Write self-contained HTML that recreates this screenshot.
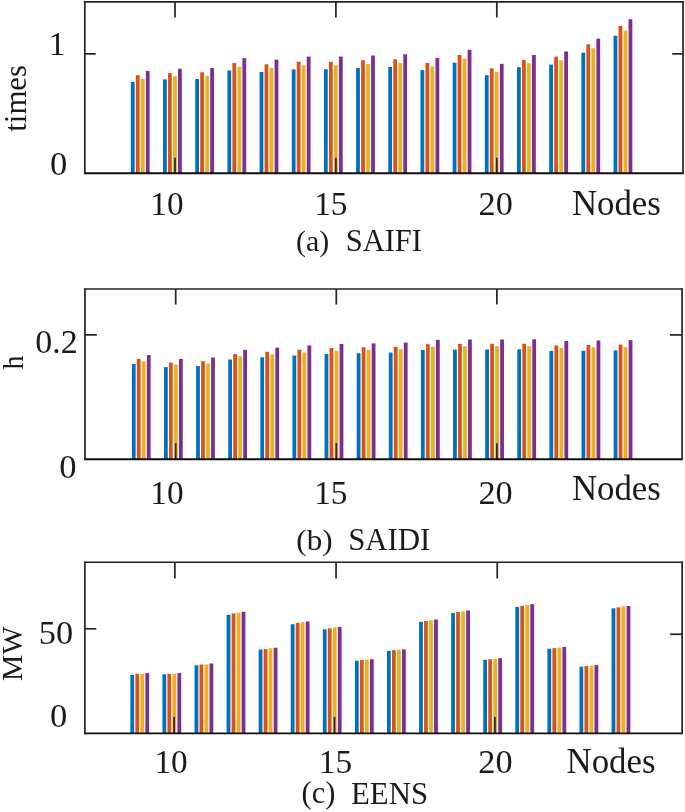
<!DOCTYPE html>
<html><head><meta charset="utf-8"><title>Reliability indices</title>
<style>
html,body{margin:0;padding:0;background:#fff;}
#fig{width:685px;height:812px;will-change:transform;}
svg{display:block;}
text{font-family:"Liberation Serif",serif;fill:#1a1a1a;}
</style></head>
<body>
<div id="fig">
<svg width="685" height="812" viewBox="0 0 685 812">
<rect x="0" y="0" width="685" height="812" fill="#ffffff"/>
<g>
<rect x="130.85" y="81.90" width="3.80" height="91.40" fill="#0072BD"/>
<rect x="135.85" y="75.20" width="3.80" height="98.10" fill="#D95319"/>
<rect x="140.85" y="78.80" width="3.80" height="94.50" fill="#EDB120"/>
<rect x="145.85" y="70.90" width="3.80" height="102.40" fill="#7E2F8E"/>
<rect x="163.03" y="79.40" width="3.80" height="93.90" fill="#0072BD"/>
<rect x="168.03" y="73.10" width="3.80" height="100.20" fill="#D95319"/>
<rect x="173.03" y="76.20" width="3.80" height="97.10" fill="#EDB120"/>
<rect x="178.03" y="68.80" width="3.80" height="104.50" fill="#7E2F8E"/>
<rect x="195.21" y="79.00" width="3.80" height="94.30" fill="#0072BD"/>
<rect x="200.21" y="72.30" width="3.80" height="101.00" fill="#D95319"/>
<rect x="205.21" y="76.00" width="3.80" height="97.30" fill="#EDB120"/>
<rect x="210.21" y="68.00" width="3.80" height="105.30" fill="#7E2F8E"/>
<rect x="227.39" y="70.50" width="3.80" height="102.80" fill="#0072BD"/>
<rect x="232.39" y="63.10" width="3.80" height="110.20" fill="#D95319"/>
<rect x="237.39" y="66.80" width="3.80" height="106.50" fill="#EDB120"/>
<rect x="242.39" y="58.20" width="3.80" height="115.10" fill="#7E2F8E"/>
<rect x="259.57" y="71.90" width="3.80" height="101.40" fill="#0072BD"/>
<rect x="264.57" y="64.30" width="3.80" height="109.00" fill="#D95319"/>
<rect x="269.57" y="68.00" width="3.80" height="105.30" fill="#EDB120"/>
<rect x="274.57" y="59.60" width="3.80" height="113.70" fill="#7E2F8E"/>
<rect x="291.75" y="69.40" width="3.80" height="103.90" fill="#0072BD"/>
<rect x="296.75" y="61.70" width="3.80" height="111.60" fill="#D95319"/>
<rect x="301.75" y="65.40" width="3.80" height="107.90" fill="#EDB120"/>
<rect x="306.75" y="56.60" width="3.80" height="116.70" fill="#7E2F8E"/>
<rect x="323.93" y="69.20" width="3.80" height="104.10" fill="#0072BD"/>
<rect x="328.93" y="61.70" width="3.80" height="111.60" fill="#D95319"/>
<rect x="333.93" y="65.20" width="3.80" height="108.10" fill="#EDB120"/>
<rect x="338.93" y="56.60" width="3.80" height="116.70" fill="#7E2F8E"/>
<rect x="356.11" y="68.00" width="3.80" height="105.30" fill="#0072BD"/>
<rect x="361.11" y="60.20" width="3.80" height="113.10" fill="#D95319"/>
<rect x="366.11" y="64.10" width="3.80" height="109.20" fill="#EDB120"/>
<rect x="371.11" y="55.50" width="3.80" height="117.80" fill="#7E2F8E"/>
<rect x="388.29" y="67.00" width="3.80" height="106.30" fill="#0072BD"/>
<rect x="393.29" y="59.20" width="3.80" height="114.10" fill="#D95319"/>
<rect x="398.29" y="62.90" width="3.80" height="110.40" fill="#EDB120"/>
<rect x="403.29" y="54.30" width="3.80" height="119.00" fill="#7E2F8E"/>
<rect x="420.47" y="70.10" width="3.80" height="103.20" fill="#0072BD"/>
<rect x="425.47" y="62.90" width="3.80" height="110.40" fill="#D95319"/>
<rect x="430.47" y="66.40" width="3.80" height="106.90" fill="#EDB120"/>
<rect x="435.47" y="58.00" width="3.80" height="115.30" fill="#7E2F8E"/>
<rect x="452.65" y="62.70" width="3.80" height="110.60" fill="#0072BD"/>
<rect x="457.65" y="54.90" width="3.80" height="118.40" fill="#D95319"/>
<rect x="462.65" y="58.60" width="3.80" height="114.70" fill="#EDB120"/>
<rect x="467.65" y="49.80" width="3.80" height="123.50" fill="#7E2F8E"/>
<rect x="484.83" y="75.20" width="3.80" height="98.10" fill="#0072BD"/>
<rect x="489.83" y="68.40" width="3.80" height="104.90" fill="#D95319"/>
<rect x="494.83" y="71.70" width="3.80" height="101.60" fill="#EDB120"/>
<rect x="499.83" y="63.90" width="3.80" height="109.40" fill="#7E2F8E"/>
<rect x="517.01" y="67.20" width="3.80" height="106.10" fill="#0072BD"/>
<rect x="522.01" y="59.90" width="3.80" height="113.40" fill="#D95319"/>
<rect x="527.01" y="63.30" width="3.80" height="110.00" fill="#EDB120"/>
<rect x="532.01" y="55.00" width="3.80" height="118.30" fill="#7E2F8E"/>
<rect x="549.19" y="64.60" width="3.80" height="108.70" fill="#0072BD"/>
<rect x="554.19" y="56.60" width="3.80" height="116.70" fill="#D95319"/>
<rect x="559.19" y="60.30" width="3.80" height="113.00" fill="#EDB120"/>
<rect x="564.19" y="51.50" width="3.80" height="121.80" fill="#7E2F8E"/>
<rect x="581.37" y="52.70" width="3.80" height="120.60" fill="#0072BD"/>
<rect x="586.37" y="44.30" width="3.80" height="129.00" fill="#D95319"/>
<rect x="591.37" y="48.20" width="3.80" height="125.10" fill="#EDB120"/>
<rect x="596.37" y="38.60" width="3.80" height="134.70" fill="#7E2F8E"/>
<rect x="613.55" y="35.80" width="3.80" height="137.50" fill="#0072BD"/>
<rect x="618.55" y="25.90" width="3.80" height="147.40" fill="#D95319"/>
<rect x="623.55" y="30.60" width="3.80" height="142.70" fill="#EDB120"/>
<rect x="628.55" y="19.20" width="3.80" height="154.10" fill="#7E2F8E"/>
<line x1="175.00" y1="173.30" x2="175.00" y2="157.70" stroke="#242424" stroke-width="1.72"/>
<line x1="175.00" y1="1.90" x2="175.00" y2="17.40" stroke="#242424" stroke-width="1.72"/>
<line x1="335.90" y1="173.30" x2="335.90" y2="157.70" stroke="#242424" stroke-width="1.72"/>
<line x1="335.90" y1="1.90" x2="335.90" y2="17.40" stroke="#242424" stroke-width="1.72"/>
<line x1="496.80" y1="173.30" x2="496.80" y2="157.70" stroke="#242424" stroke-width="1.72"/>
<line x1="496.80" y1="1.90" x2="496.80" y2="17.40" stroke="#242424" stroke-width="1.72"/>
<line x1="84.80" y1="53.85" x2="95.70" y2="53.85" stroke="#242424" stroke-width="1.72"/>
<line x1="683.05" y1="53.85" x2="672.25" y2="53.85" stroke="#242424" stroke-width="1.72"/>
<line x1="83.94" y1="1.90" x2="683.91" y2="1.90" stroke="#242424" stroke-width="1.60"/>
<line x1="83.94" y1="173.30" x2="683.91" y2="173.30" stroke="#101010" stroke-width="1.90"/>
<line x1="84.80" y1="1.10" x2="84.80" y2="174.10" stroke="#242424" stroke-width="1.72"/>
<line x1="683.05" y1="1.10" x2="683.05" y2="174.10" stroke="#242424" stroke-width="1.72"/>
</g>
<g>
<rect x="131.85" y="364.00" width="3.80" height="95.20" fill="#0072BD"/>
<rect x="136.85" y="358.90" width="3.80" height="100.30" fill="#D95319"/>
<rect x="141.85" y="361.20" width="3.80" height="98.00" fill="#EDB120"/>
<rect x="146.85" y="355.00" width="3.80" height="104.20" fill="#7E2F8E"/>
<rect x="163.97" y="367.10" width="3.80" height="92.10" fill="#0072BD"/>
<rect x="168.97" y="362.60" width="3.80" height="96.60" fill="#D95319"/>
<rect x="173.97" y="364.60" width="3.80" height="94.60" fill="#EDB120"/>
<rect x="178.97" y="358.90" width="3.80" height="100.30" fill="#7E2F8E"/>
<rect x="196.09" y="366.10" width="3.80" height="93.10" fill="#0072BD"/>
<rect x="201.09" y="361.20" width="3.80" height="98.00" fill="#D95319"/>
<rect x="206.09" y="363.60" width="3.80" height="95.60" fill="#EDB120"/>
<rect x="211.09" y="357.50" width="3.80" height="101.70" fill="#7E2F8E"/>
<rect x="228.21" y="359.50" width="3.80" height="99.70" fill="#0072BD"/>
<rect x="233.21" y="354.00" width="3.80" height="105.20" fill="#D95319"/>
<rect x="238.21" y="356.30" width="3.80" height="102.90" fill="#EDB120"/>
<rect x="243.21" y="349.90" width="3.80" height="109.30" fill="#7E2F8E"/>
<rect x="260.33" y="357.30" width="3.80" height="101.90" fill="#0072BD"/>
<rect x="265.33" y="351.80" width="3.80" height="107.40" fill="#D95319"/>
<rect x="270.33" y="354.40" width="3.80" height="104.80" fill="#EDB120"/>
<rect x="275.33" y="347.70" width="3.80" height="111.50" fill="#7E2F8E"/>
<rect x="292.45" y="355.50" width="3.80" height="103.70" fill="#0072BD"/>
<rect x="297.45" y="349.70" width="3.80" height="109.50" fill="#D95319"/>
<rect x="302.45" y="352.40" width="3.80" height="106.80" fill="#EDB120"/>
<rect x="307.45" y="345.50" width="3.80" height="113.70" fill="#7E2F8E"/>
<rect x="324.57" y="354.00" width="3.80" height="105.20" fill="#0072BD"/>
<rect x="329.57" y="348.10" width="3.80" height="111.10" fill="#D95319"/>
<rect x="334.57" y="350.80" width="3.80" height="108.40" fill="#EDB120"/>
<rect x="339.57" y="344.00" width="3.80" height="115.20" fill="#7E2F8E"/>
<rect x="356.69" y="353.20" width="3.80" height="106.00" fill="#0072BD"/>
<rect x="361.69" y="347.30" width="3.80" height="111.90" fill="#D95319"/>
<rect x="366.69" y="349.90" width="3.80" height="109.30" fill="#EDB120"/>
<rect x="371.69" y="343.40" width="3.80" height="115.80" fill="#7E2F8E"/>
<rect x="388.81" y="352.60" width="3.80" height="106.60" fill="#0072BD"/>
<rect x="393.81" y="346.90" width="3.80" height="112.30" fill="#D95319"/>
<rect x="398.81" y="349.30" width="3.80" height="109.90" fill="#EDB120"/>
<rect x="403.81" y="342.60" width="3.80" height="116.60" fill="#7E2F8E"/>
<rect x="420.93" y="349.90" width="3.80" height="109.30" fill="#0072BD"/>
<rect x="425.93" y="344.20" width="3.80" height="115.00" fill="#D95319"/>
<rect x="430.93" y="346.70" width="3.80" height="112.50" fill="#EDB120"/>
<rect x="435.93" y="339.90" width="3.80" height="119.30" fill="#7E2F8E"/>
<rect x="453.05" y="349.70" width="3.80" height="109.50" fill="#0072BD"/>
<rect x="458.05" y="344.00" width="3.80" height="115.20" fill="#D95319"/>
<rect x="463.05" y="346.30" width="3.80" height="112.90" fill="#EDB120"/>
<rect x="468.05" y="339.50" width="3.80" height="119.70" fill="#7E2F8E"/>
<rect x="485.17" y="349.50" width="3.80" height="109.70" fill="#0072BD"/>
<rect x="490.17" y="343.80" width="3.80" height="115.40" fill="#D95319"/>
<rect x="495.17" y="346.10" width="3.80" height="113.10" fill="#EDB120"/>
<rect x="500.17" y="339.50" width="3.80" height="119.70" fill="#7E2F8E"/>
<rect x="517.29" y="349.30" width="3.80" height="109.90" fill="#0072BD"/>
<rect x="522.29" y="343.80" width="3.80" height="115.40" fill="#D95319"/>
<rect x="527.29" y="346.10" width="3.80" height="113.10" fill="#EDB120"/>
<rect x="532.29" y="339.30" width="3.80" height="119.90" fill="#7E2F8E"/>
<rect x="549.41" y="351.00" width="3.80" height="108.20" fill="#0072BD"/>
<rect x="554.41" y="345.50" width="3.80" height="113.70" fill="#D95319"/>
<rect x="559.41" y="347.90" width="3.80" height="111.30" fill="#EDB120"/>
<rect x="564.41" y="341.00" width="3.80" height="118.20" fill="#7E2F8E"/>
<rect x="581.53" y="350.80" width="3.80" height="108.40" fill="#0072BD"/>
<rect x="586.53" y="345.00" width="3.80" height="114.20" fill="#D95319"/>
<rect x="591.53" y="347.30" width="3.80" height="111.90" fill="#EDB120"/>
<rect x="596.53" y="340.50" width="3.80" height="118.70" fill="#7E2F8E"/>
<rect x="613.65" y="350.40" width="3.80" height="108.80" fill="#0072BD"/>
<rect x="618.65" y="344.60" width="3.80" height="114.60" fill="#D95319"/>
<rect x="623.65" y="347.10" width="3.80" height="112.10" fill="#EDB120"/>
<rect x="628.65" y="340.10" width="3.80" height="119.10" fill="#7E2F8E"/>
<line x1="175.70" y1="459.20" x2="175.70" y2="443.20" stroke="#242424" stroke-width="1.72"/>
<line x1="175.70" y1="289.00" x2="175.70" y2="304.50" stroke="#242424" stroke-width="1.72"/>
<line x1="336.30" y1="459.20" x2="336.30" y2="443.20" stroke="#242424" stroke-width="1.72"/>
<line x1="336.30" y1="289.00" x2="336.30" y2="304.50" stroke="#242424" stroke-width="1.72"/>
<line x1="496.90" y1="459.20" x2="496.90" y2="443.20" stroke="#242424" stroke-width="1.72"/>
<line x1="496.90" y1="289.00" x2="496.90" y2="304.50" stroke="#242424" stroke-width="1.72"/>
<line x1="84.95" y1="334.85" x2="96.85" y2="334.85" stroke="#242424" stroke-width="1.72"/>
<line x1="682.05" y1="334.90" x2="669.85" y2="334.90" stroke="#242424" stroke-width="1.72"/>
<line x1="84.09" y1="289.00" x2="682.91" y2="289.00" stroke="#242424" stroke-width="1.60"/>
<line x1="84.09" y1="459.20" x2="682.91" y2="459.20" stroke="#101010" stroke-width="1.90"/>
<line x1="84.95" y1="288.20" x2="84.95" y2="460.00" stroke="#242424" stroke-width="1.72"/>
<line x1="682.05" y1="288.20" x2="682.05" y2="460.00" stroke="#242424" stroke-width="1.72"/>
</g>
<g>
<rect x="130.35" y="674.90" width="3.80" height="58.45" fill="#0072BD"/>
<rect x="135.35" y="673.90" width="3.80" height="59.45" fill="#D95319"/>
<rect x="140.35" y="673.90" width="3.80" height="59.45" fill="#EDB120"/>
<rect x="145.35" y="673.10" width="3.80" height="60.25" fill="#7E2F8E"/>
<rect x="162.43" y="674.30" width="3.80" height="59.05" fill="#0072BD"/>
<rect x="167.43" y="673.90" width="3.80" height="59.45" fill="#D95319"/>
<rect x="172.43" y="673.70" width="3.80" height="59.65" fill="#EDB120"/>
<rect x="177.43" y="673.10" width="3.80" height="60.25" fill="#7E2F8E"/>
<rect x="194.51" y="665.30" width="3.80" height="68.05" fill="#0072BD"/>
<rect x="199.51" y="664.50" width="3.80" height="68.85" fill="#D95319"/>
<rect x="204.51" y="664.50" width="3.80" height="68.85" fill="#EDB120"/>
<rect x="209.51" y="663.50" width="3.80" height="69.85" fill="#7E2F8E"/>
<rect x="226.59" y="614.80" width="3.80" height="118.55" fill="#0072BD"/>
<rect x="231.59" y="613.40" width="3.80" height="119.95" fill="#D95319"/>
<rect x="236.59" y="612.80" width="3.80" height="120.55" fill="#EDB120"/>
<rect x="241.59" y="611.80" width="3.80" height="121.55" fill="#7E2F8E"/>
<rect x="258.67" y="649.60" width="3.80" height="83.75" fill="#0072BD"/>
<rect x="263.67" y="649.00" width="3.80" height="84.35" fill="#D95319"/>
<rect x="268.67" y="648.30" width="3.80" height="85.05" fill="#EDB120"/>
<rect x="273.67" y="647.70" width="3.80" height="85.65" fill="#7E2F8E"/>
<rect x="290.75" y="624.20" width="3.80" height="109.15" fill="#0072BD"/>
<rect x="295.75" y="622.80" width="3.80" height="110.55" fill="#D95319"/>
<rect x="300.75" y="622.20" width="3.80" height="111.15" fill="#EDB120"/>
<rect x="305.75" y="621.40" width="3.80" height="111.95" fill="#7E2F8E"/>
<rect x="322.83" y="629.30" width="3.80" height="104.05" fill="#0072BD"/>
<rect x="327.83" y="628.30" width="3.80" height="105.05" fill="#D95319"/>
<rect x="332.83" y="627.50" width="3.80" height="105.85" fill="#EDB120"/>
<rect x="337.83" y="626.90" width="3.80" height="106.45" fill="#7E2F8E"/>
<rect x="354.91" y="660.80" width="3.80" height="72.55" fill="#0072BD"/>
<rect x="359.91" y="660.00" width="3.80" height="73.35" fill="#D95319"/>
<rect x="364.91" y="659.60" width="3.80" height="73.75" fill="#EDB120"/>
<rect x="369.91" y="659.20" width="3.80" height="74.15" fill="#7E2F8E"/>
<rect x="386.99" y="650.80" width="3.80" height="82.55" fill="#0072BD"/>
<rect x="391.99" y="650.20" width="3.80" height="83.15" fill="#D95319"/>
<rect x="396.99" y="649.80" width="3.80" height="83.55" fill="#EDB120"/>
<rect x="401.99" y="649.40" width="3.80" height="83.95" fill="#7E2F8E"/>
<rect x="419.07" y="621.80" width="3.80" height="111.55" fill="#0072BD"/>
<rect x="424.07" y="621.00" width="3.80" height="112.35" fill="#D95319"/>
<rect x="429.07" y="620.30" width="3.80" height="113.05" fill="#EDB120"/>
<rect x="434.07" y="619.50" width="3.80" height="113.85" fill="#7E2F8E"/>
<rect x="451.15" y="613.00" width="3.80" height="120.35" fill="#0072BD"/>
<rect x="456.15" y="612.00" width="3.80" height="121.35" fill="#D95319"/>
<rect x="461.15" y="611.30" width="3.80" height="122.05" fill="#EDB120"/>
<rect x="466.15" y="610.50" width="3.80" height="122.85" fill="#7E2F8E"/>
<rect x="483.23" y="659.80" width="3.80" height="73.55" fill="#0072BD"/>
<rect x="488.23" y="659.20" width="3.80" height="74.15" fill="#D95319"/>
<rect x="493.23" y="658.80" width="3.80" height="74.55" fill="#EDB120"/>
<rect x="498.23" y="658.20" width="3.80" height="75.15" fill="#7E2F8E"/>
<rect x="515.31" y="606.90" width="3.80" height="126.45" fill="#0072BD"/>
<rect x="520.31" y="605.80" width="3.80" height="127.55" fill="#D95319"/>
<rect x="525.31" y="605.00" width="3.80" height="128.35" fill="#EDB120"/>
<rect x="530.31" y="604.20" width="3.80" height="129.15" fill="#7E2F8E"/>
<rect x="547.39" y="648.70" width="3.80" height="84.65" fill="#0072BD"/>
<rect x="552.39" y="648.10" width="3.80" height="85.25" fill="#D95319"/>
<rect x="557.39" y="647.50" width="3.80" height="85.85" fill="#EDB120"/>
<rect x="562.39" y="646.90" width="3.80" height="86.45" fill="#7E2F8E"/>
<rect x="579.47" y="666.70" width="3.80" height="66.65" fill="#0072BD"/>
<rect x="584.47" y="666.10" width="3.80" height="67.25" fill="#D95319"/>
<rect x="589.47" y="665.70" width="3.80" height="67.65" fill="#EDB120"/>
<rect x="594.47" y="665.10" width="3.80" height="68.25" fill="#7E2F8E"/>
<rect x="611.55" y="608.30" width="3.80" height="125.05" fill="#0072BD"/>
<rect x="616.55" y="607.30" width="3.80" height="126.05" fill="#D95319"/>
<rect x="621.55" y="606.40" width="3.80" height="126.95" fill="#EDB120"/>
<rect x="626.55" y="606.00" width="3.80" height="127.35" fill="#7E2F8E"/>
<line x1="174.10" y1="733.35" x2="174.10" y2="716.95" stroke="#242424" stroke-width="1.72"/>
<line x1="174.85" y1="562.30" x2="174.85" y2="578.50" stroke="#242424" stroke-width="1.72"/>
<line x1="334.50" y1="733.35" x2="334.50" y2="716.95" stroke="#242424" stroke-width="1.72"/>
<line x1="336.05" y1="562.30" x2="336.05" y2="578.50" stroke="#242424" stroke-width="1.72"/>
<line x1="494.90" y1="733.35" x2="494.90" y2="716.95" stroke="#242424" stroke-width="1.72"/>
<line x1="497.25" y1="562.30" x2="497.25" y2="578.50" stroke="#242424" stroke-width="1.72"/>
<line x1="84.90" y1="628.80" x2="96.30" y2="628.80" stroke="#242424" stroke-width="1.72"/>
<line x1="682.15" y1="634.25" x2="670.15" y2="634.25" stroke="#242424" stroke-width="1.72"/>
<line x1="84.04" y1="562.30" x2="683.01" y2="562.30" stroke="#242424" stroke-width="1.60"/>
<line x1="84.04" y1="733.35" x2="683.01" y2="733.35" stroke="#101010" stroke-width="1.90"/>
<line x1="84.90" y1="561.50" x2="84.90" y2="734.15" stroke="#242424" stroke-width="1.72"/>
<line x1="682.15" y1="561.50" x2="682.15" y2="734.15" stroke="#242424" stroke-width="1.72"/>
</g>
<text transform="translate(48.63 55.36)" font-size="33.30" fill="#141414">1</text>
<text transform="translate(50.04 175.31) scale(1.0400 1)" font-size="33.30" fill="#141414">0</text>
<text transform="translate(150.37 214.76)" font-size="33.30" fill="#141414">10</text>
<text transform="translate(314.17 214.59)" font-size="33.30" fill="#141414">15</text>
<text transform="translate(478.51 214.76) scale(1.0300 1)" font-size="33.30" fill="#141414">20</text>
<text transform="translate(571.93 215.13)" font-size="34.80" fill="#141414">Nodes</text>
<text transform="translate(25.80 131.71) rotate(-90) scale(0.9450 1)" font-size="32.60" fill="#141414">times</text>
<text transform="translate(296.11 250.67) scale(0.9800 1)" font-size="30.50" fill="#141414">(a)</text>
<text transform="translate(345.72 250.81)" font-size="30.50" fill="#141414">SAIFI</text>
<text transform="translate(35.23 352.72) scale(1.0200 1)" font-size="33.30" fill="#141414">0.2</text>
<text transform="translate(59.24 478.21) scale(1.0400 1)" font-size="33.30" fill="#141414">0</text>
<text transform="translate(150.37 503.71)" font-size="33.30" fill="#141414">10</text>
<text transform="translate(314.17 503.54)" font-size="33.30" fill="#141414">15</text>
<text transform="translate(478.41 503.86) scale(1.0300 1)" font-size="33.30" fill="#141414">20</text>
<text transform="translate(571.93 500.18)" font-size="34.80" fill="#141414">Nodes</text>
<text transform="translate(23.01 369.44) rotate(-90) scale(0.9400 1)" font-size="29.60" fill="#141414">h</text>
<text transform="translate(296.28 549.52) scale(1.0200 1)" font-size="30.50" fill="#141414">(b)</text>
<text transform="translate(348.14 549.81) scale(1.0100 1)" font-size="30.50" fill="#141414">SAIDI</text>
<text transform="translate(38.86 643.56) scale(1.0300 1)" font-size="33.30" fill="#141414">50</text>
<text transform="translate(50.04 727.31) scale(1.0400 1)" font-size="33.30" fill="#141414">0</text>
<text transform="translate(154.47 772.86)" font-size="33.30" fill="#141414">10</text>
<text transform="translate(318.87 772.69)" font-size="33.30" fill="#141414">15</text>
<text transform="translate(478.31 772.86) scale(1.0300 1)" font-size="33.30" fill="#141414">20</text>
<text transform="translate(566.58 772.53)" font-size="34.80" fill="#141414">Nodes</text>
<text transform="translate(21.86 680.96) rotate(-90)" font-size="29.80" fill="#141414">MW</text>
<text transform="translate(301.62 803.12)" font-size="30.50" fill="#141414">(c)</text>
<text transform="translate(351.06 804.21) scale(1.0100 1)" font-size="30.50" fill="#141414">EENS</text>
</svg>
</div>
</body></html>
